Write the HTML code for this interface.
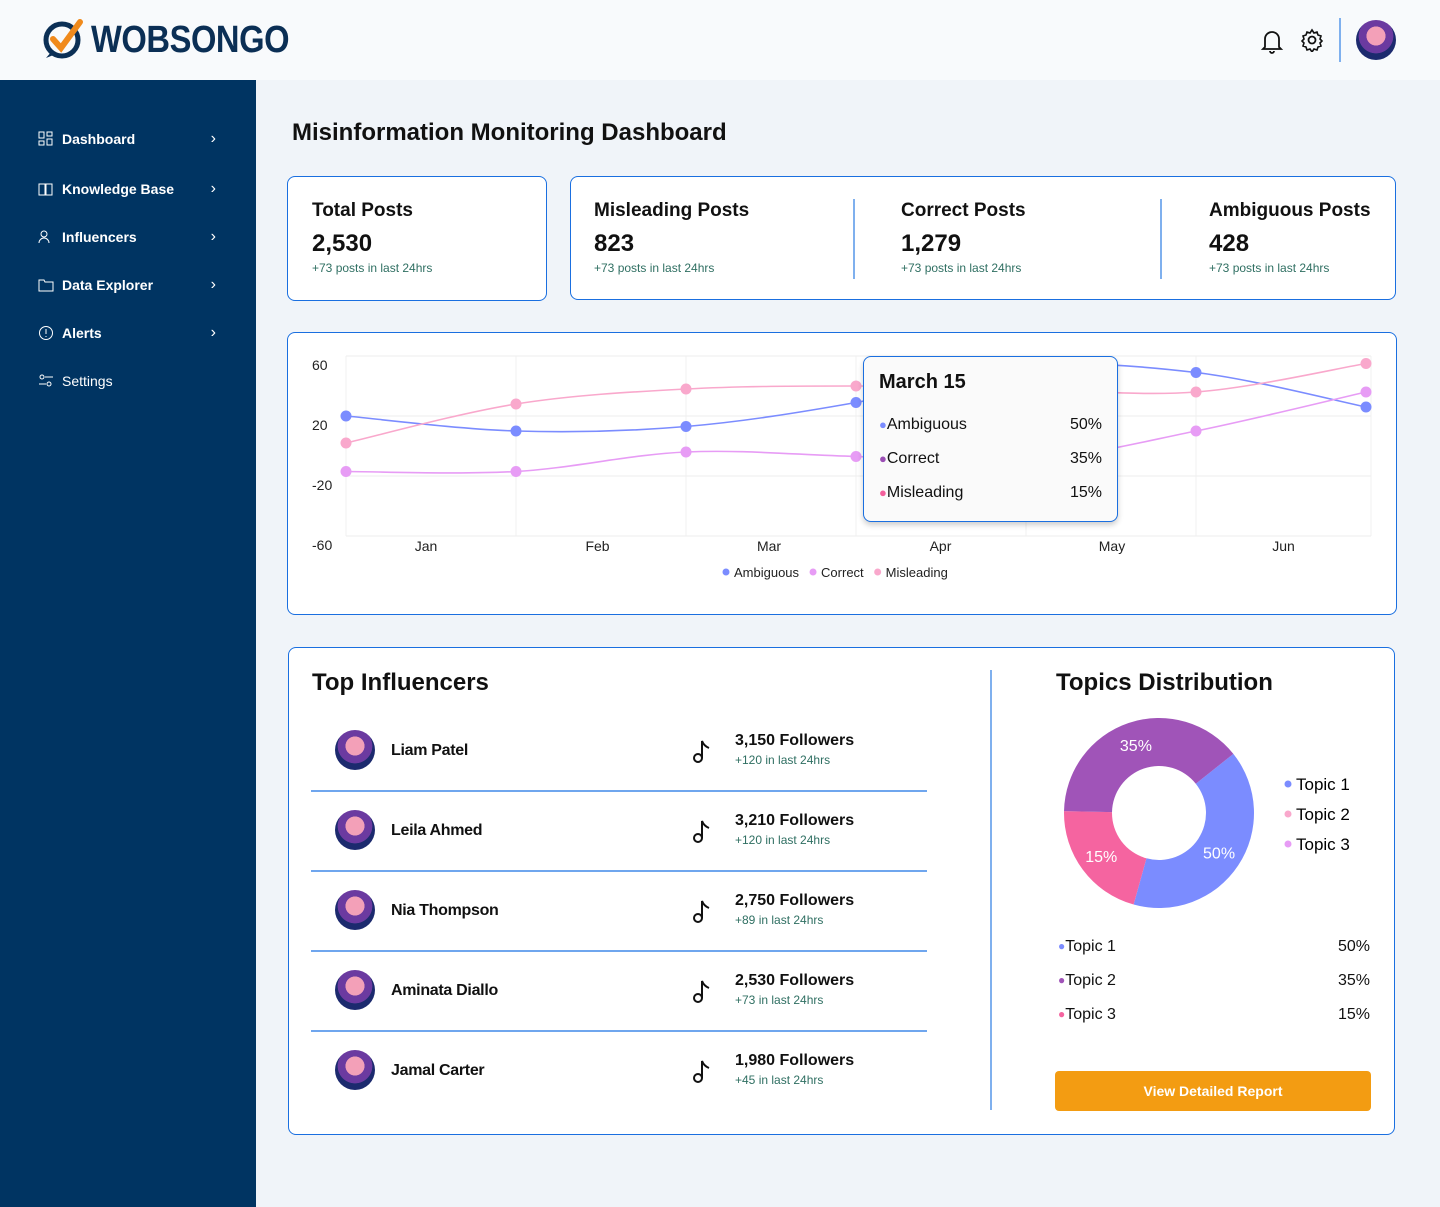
<!DOCTYPE html>
<html><head><meta charset="utf-8"><style>
*{box-sizing:border-box;margin:0;padding:0}
body{width:1440px;height:1207px;background:#f0f4f9;font-family:"Liberation Sans",sans-serif;position:relative;overflow:hidden;color:#111}
.abs{position:absolute}
.header{left:0;top:0;width:1440px;height:80px;background:#f8fafc}
.side{left:0;top:80px;width:256px;height:1127px;background:#003462}
.nav{left:38px;color:#fff;font-size:14px;font-weight:bold;display:flex;align-items:center;width:178px}
.nav svg{margin-right:8px}
.nav .chev{position:absolute;right:0;font-weight:normal;font-size:16px}
.card{background:#fff;border:1px solid #1a6fe0;border-radius:8px}
.kt{font-size:19px;font-weight:bold}
.kv{font-size:24px;font-weight:bold;margin-top:8px}
.ks{font-size:12px;color:#2f6f62;margin-top:3px}
.row{left:311px;width:616px;height:80px}
.avatar{border-radius:50%;background:radial-gradient(circle at 50% 40%,#f3a0b8 0 30%,#6b3aa0 31% 55%,#1c2a6e 56%)}
.iname{font-size:16px;font-weight:bold;letter-spacing:-0.3px}
.fol{font-size:16px;font-weight:bold}
.fs{font-size:12px;color:#2f6f62}
.tr{line-height:34px;height:34px}
</style></head><body>
<div class="abs header"></div>
<div class="abs" style="left:42px;top:18px">
<svg width="46" height="44" viewBox="0 0 46 44"><circle cx="20" cy="22" r="16" fill="none" stroke="#0b2f55" stroke-width="5"/><path d="M4 40 L10 33 L14 36Z" fill="#0b2f55"/><path d="M11 21 L19 30 L38 4" fill="none" stroke="#f08a1c" stroke-width="6" stroke-linecap="round"/></svg></div>
<div class="abs" style="left:91px;top:19px;font-size:38px;font-weight:bold;color:#0b2f55;letter-spacing:-0.5px;transform:scaleX(0.86);transform-origin:left">WOBSONGO</div>
<svg class="abs" style="left:1260px;top:28px" width="24" height="26"><path d="M5 19 V11 a7 7 0 0 1 14 0 V19 L21 21 H3Z M10 23 a2 2 0 0 0 4 0" fill="none" stroke="#111" stroke-width="1.8"/></svg>
<svg class="abs" style="left:1300px;top:28px" width="24" height="24" viewBox="0 0 24 24"><circle cx="12" cy="12" r="3.5" fill="none" stroke="#111" stroke-width="1.8"/><path d="M12 2 l2 3 3-1 1 3 3 1-1 3 2 2-2 2 1 3-3 1-1 3-3-1-2 3-2-3-3 1-1-3-3-1 1-3-2-2 2-2-1-3 3-1 1-3 3 1Z" fill="none" stroke="#111" stroke-width="1.6"/></svg>
<div class="abs" style="left:1339px;top:18px;width:2px;height:44px;background:#7fb0ee"></div>
<div class="abs avatar" style="left:1356px;top:20px;width:40px;height:40px"></div>

<div class="abs side"></div>
<div class="abs nav" style="top:131px"><svg width="16" height="16"><rect x="1" y="1" width="5" height="6" fill="none" stroke="#fff"/><rect x="9" y="1" width="5" height="4" fill="none" stroke="#fff"/><rect x="1" y="10" width="5" height="4" fill="none" stroke="#fff"/><rect x="9" y="8" width="5" height="6" fill="none" stroke="#fff"/></svg>Dashboard<span class="chev">›</span></div>
<div class="abs nav" style="top:181px"><svg width="16" height="16"><path d="M1 3 H7 V14 H1Z M8 3 H14 V14 H8Z" fill="none" stroke="#fff"/></svg>Knowledge Base<span class="chev">›</span></div>
<div class="abs nav" style="top:229px"><svg width="16" height="16"><circle cx="6" cy="5" r="3" fill="none" stroke="#fff"/><path d="M1 14 a5 5 0 0 1 10 0" fill="none" stroke="#fff"/></svg>Influencers<span class="chev">›</span></div>
<div class="abs nav" style="top:277px"><svg width="16" height="16"><path d="M1 3 H6 L7 5 H15 V14 H1Z" fill="none" stroke="#fff"/></svg>Data Explorer<span class="chev">›</span></div>
<div class="abs nav" style="top:325px"><svg width="16" height="16"><circle cx="8" cy="8" r="6.5" fill="none" stroke="#fff"/><path d="M8 4 V9 M8 11 V12" stroke="#fff"/></svg>Alerts<span class="chev">›</span></div>
<div class="abs nav" style="top:373px;font-weight:normal"><svg width="16" height="16"><circle cx="4" cy="4" r="2" fill="none" stroke="#fff"/><circle cx="11" cy="11" r="2" fill="none" stroke="#fff"/><path d="M7 4 H15 M1 11 H8" stroke="#fff"/></svg>Settings</div>

<div class="abs" style="left:292px;top:119px;font-size:24px;font-weight:bold;color:#111">Misinformation Monitoring Dashboard</div>

<div class="abs card" style="left:287px;top:176px;width:260px;height:125px;padding:23px 24px">
<div class="kt">Total Posts</div><div class="kv">2,530</div><div class="ks">+73 posts in last 24hrs</div></div>
<div class="abs card" style="left:570px;top:176px;width:826px;height:124px">
<div class="abs" style="left:23px;top:23px"><div class="kt">Misleading Posts</div><div class="kv">823</div><div class="ks">+73 posts in last 24hrs</div></div>
<div class="abs" style="left:282px;top:22px;width:2px;height:80px;background:#7fb0ee"></div>
<div class="abs" style="left:330px;top:23px"><div class="kt">Correct Posts</div><div class="kv">1,279</div><div class="ks">+73 posts in last 24hrs</div></div>
<div class="abs" style="left:589px;top:22px;width:2px;height:80px;background:#7fb0ee"></div>
<div class="abs" style="left:638px;top:23px"><div class="kt">Ambiguous Posts</div><div class="kv">428</div><div class="ks">+73 posts in last 24hrs</div></div>
</div>

<div class="abs card" style="left:287px;top:332px;width:1110px;height:283px"></div>
<svg class="abs" id="chart" style="left:0;top:0" width="1440" height="620"></svg>
<div class="abs" style="left:863px;top:356px;width:255px;height:166px;background:#fafafa;border:1px solid #1a6fe0;border-radius:8px;box-shadow:0 3px 6px rgba(0,0,0,.2);padding:14px 15px">
<div style="font-size:20px;font-weight:bold">March 15</div>
<div style="position:relative;margin-top:14px;font-size:16px">
<div class="tr"><span style="color:#7b8cff;font-size:13px">●</span>Ambiguous<span style="position:absolute;right:0">50%</span></div>
<div class="tr"><span style="color:#9b4fb5;font-size:13px">●</span>Correct<span style="position:absolute;right:0">35%</span></div>
<div class="tr"><span style="color:#f35f9c;font-size:13px">●</span>Misleading<span style="position:absolute;right:0">15%</span></div>
</div></div>

<div class="abs card" style="left:288px;top:647px;width:1107px;height:488px"></div>
<div class="abs" style="left:312px;top:669px;font-size:24px;font-weight:bold">Top Influencers</div>
<div id="rows"></div>
<div class="abs" style="left:990px;top:670px;width:2px;height:440px;background:#7fb0ee"></div>
<div class="abs" style="left:1056px;top:669px;font-size:24px;font-weight:bold">Topics Distribution</div>
<svg class="abs" id="donut" style="left:1050px;top:705px" width="330" height="220"></svg>
<div id="tlist"></div>
<div class="abs" style="left:1055px;top:1071px;width:316px;height:40px;background:#f39c12;border-radius:4px;color:#fff;font-weight:bold;font-size:14px;text-align:center;line-height:40px">View Detailed Report</div>

<script>
// ---- line chart data ----
const months = ["Jan","Feb","Mar","Apr","May","Jun"];
const yTicks = [60,20,-20,-60];
const ambiguous = [20,10,13,29,53,49,26];
const correct = [-17,-17,-4,-7,-10,10,36];
const misleading = [2,28,38,40,38,36,55];
const seriesNames = ["Ambiguous","Correct","Misleading"];
const seriesColors = ["#7b8cff","#e79cf5","#f9a8cc"];

const NS="http://www.w3.org/2000/svg";
const svg=document.getElementById('chart');
const X0=346,X1=1371,Y0=356,Y1=536,YMAX=60,YMIN=-60;
const xp=i=>X0+i*(1366-X0)/(ambiguous.length-1);
const yp=v=>Y0+(YMAX-v)/(YMAX-YMIN)*(Y1-Y0);
function mk(tag,attrs){const e=document.createElementNS(NS,tag);for(const k in attrs)e.setAttribute(k,attrs[k]);svg.appendChild(e);return e;}
yTicks.forEach(t=>{
  const g=mk('line',{x1:X0,x2:X1,y1:yp(t),y2:yp(t),stroke:'#eee'});
  
  
  const tx=mk('text',{x:312,y:yp(t)+14,'font-size':14,fill:'#222','font-family':'Liberation Sans'});
  tx.textContent=t;
  
  
});
for(let i=0;i<=6;i++){
  const xx=i==6?X1:xp(i);
  const g=mk('line',{x1:xx,x2:xx,y1:Y0,y2:Y1,stroke:'#f0f0f0'});
  
  
}
months.forEach((m,i)=>{
  const tx=mk('text',{x:(xp(i)+xp(i+1))/2-5+i*1.5,y:551,'font-size':14,fill:'#222','text-anchor':'middle','font-family':'Liberation Sans'});
  tx.textContent=m;
  
  
});
function path(vals){
  const p=vals.map((v,i)=>[xp(i),yp(v)]);
  let d=`M${p[0][0]},${p[0][1]}`;
  for(let i=0;i<p.length-1;i++){
    const p0=p[i-1]||p[i],p1=p[i],p2=p[i+1],p3=p[i+2]||p2;
    const c1=[p1[0]+(p2[0]-p0[0])/6,p1[1]+(p2[1]-p0[1])/6];
    const c2=[p2[0]-(p3[0]-p1[0])/6,p2[1]-(p3[1]-p1[1])/6];
    d+=` C${c1[0]},${c1[1]} ${c2[0]},${c2[1]} ${p2[0]},${p2[1]}`;
  }
  return d;
}
[ambiguous,correct,misleading].forEach((s,k)=>{
  const l=mk('path',{d:path(s),fill:'none',stroke:seriesColors[k],'stroke-width':1.6});
  
  
  s.forEach((v,i)=>{
    const c=mk('circle',{cx:xp(i),cy:yp(v),r:5.5,fill:seriesColors[k]});
    
    
  });
});
let lx=722;
seriesNames.forEach((n,k)=>{
  const c=mk('circle',{cx:lx+4,cy:572,r:3.5,fill:seriesColors[k]});
  
  
  const t=mk('text',{x:lx+12,y:577,'font-size':13,fill:'#222','font-family':'Liberation Sans'});
  t.textContent=n;
  
  
  lx+=12+t.getComputedTextLength()+10;
});

// ---- influencers ----
const names=["Liam Patel","Leila Ahmed","Nia Thompson","Aminata Diallo","Jamal Carter"];
const followers=["3,150","3,210","2,750","2,530","1,980"];
const gains=["+120","+120","+89","+73","+45"];
const rows=document.getElementById('rows');
names.forEach((n,i)=>{
  const top=710+i*80;
  const r=document.createElement('div');
  r.className='abs row';r.style.top=top+'px';
  
  
  r.innerHTML=`<div class="abs avatar" style="left:24px;top:20px;width:40px;height:40px"></div>
  <div class="abs iname" style="left:80px;top:32px">${n}</div>
  <svg class="abs" style="left:381px;top:27px" width="22" height="28"><circle cx="6" cy="21" r="4" fill="none" stroke="#111" stroke-width="2"/><path d="M10 21 V4 Q12 9 17 11" fill="none" stroke="#111" stroke-width="2"/></svg>
  <div class="abs fol" style="left:424px;top:22px">${followers[i]} Followers</div>
  <div class="abs fs" style="left:424px;top:43px">${gains[i]} in last 24hrs</div>
  ${i<4?'<div class="abs" style="left:0;top:80px;width:616px;height:2px;background:#6fa6ee"></div>':''}`;
  rows.appendChild(r);
});

// ---- donut ----
const topics=["Topic 1","Topic 2","Topic 3"];
const sliceShares=[40,21,39];
const sliceLabels=["50%","15%","35%"];
const sliceColors=["#7b8cff","#f564a0","#a054b8"];
const legendColors=["#7b8cff","#f9a8cc","#e79cf5"];
const tablePct=["50%","35%","15%"];
const tableColors=["#7b8cff","#a054b8","#f564a0"];
const ds=document.getElementById('donut');
const cx=109,cy=108,R=95,r0=47;
const tot=sliceShares.reduce((a,b)=>a+b,0);
let ang=51.5;
function pt(a,rad){const t=(a-90)*Math.PI/180;return [cx+rad*Math.cos(t),cy+rad*Math.sin(t)];}
sliceShares.forEach((v,i)=>{
  const sw=v/tot*360,a1=ang+sw,lg=sw>180?1:0;
  const [x1,y1]=pt(ang,R),[x2,y2]=pt(a1,R),[x3,y3]=pt(a1,r0),[x4,y4]=pt(ang,r0);
  const p=document.createElementNS(NS,'path');
  p.setAttribute('d',`M${x1},${y1} A${R},${R} 0 ${lg} 1 ${x2},${y2} L${x3},${y3} A${r0},${r0} 0 ${lg} 0 ${x4},${y4}Z`);
  p.setAttribute('fill',sliceColors[i]);
  
  
  ds.appendChild(p);
  const [lx2,ly2]=pt(ang+sw/2,72);
  const t=document.createElementNS(NS,'text');
  t.setAttribute('x',lx2);t.setAttribute('y',ly2+6);t.setAttribute('text-anchor','middle');
  t.setAttribute('fill','#fff');t.setAttribute('font-size','16');t.setAttribute('font-family','Liberation Sans');
  t.textContent=sliceLabels[i];
  
  
  ds.appendChild(t);
  ang=a1;
});
topics.forEach((n,i)=>{
  const c=document.createElementNS(NS,'circle');
  c.setAttribute('cx',238);c.setAttribute('cy',79+i*30);c.setAttribute('r',3.5);c.setAttribute('fill',legendColors[i]);
  
  
  ds.appendChild(c);
  const t=document.createElementNS(NS,'text');
  t.setAttribute('x',246);t.setAttribute('y',85+i*30);t.setAttribute('font-size','17');t.setAttribute('font-family','Liberation Sans');
  t.textContent=n;
  
  
  ds.appendChild(t);
});
const tl=document.getElementById('tlist');
topics.forEach((n,i)=>{
  const d=document.createElement('div');
  d.className='abs';d.style.cssText=`left:1058px;top:${938+i*34}px;width:312px;font-size:16px`;
  
  
  d.innerHTML=`<span style="color:${tableColors[i]};font-size:12px;vertical-align:1px">●</span>${n}<span style="position:absolute;right:0">${tablePct[i]}</span>`;
  tl.appendChild(d);
});
</script>
</body></html>
